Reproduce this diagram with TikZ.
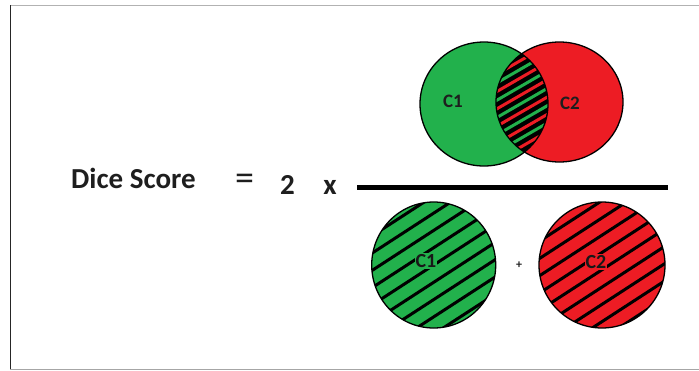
\documentclass[tikz,border=0pt]{standalone}
\usepackage{fontspec}
\setmainfont{Carlito}
\definecolor{pgreen}{RGB}{34,177,76}
\definecolor{pred}{RGB}{237,28,36}
\definecolor{txt}{RGB}{30,30,30}
\tikzset{
  rim/.style={draw=black, line width=1.3pt},
  hatchline/.style={line width=3pt, line cap=round},
  bigtxt/.style={font=\bfseries\fontsize{29}{30}\selectfont, text=txt, inner sep=0pt},
  ctxt/.style={font=\bfseries\fontsize{19}{20}\selectfont, text=txt, inner sep=0pt},
  ctxtb/.style={font=\bfseries\fontsize{20}{22}\selectfont, text=txt!80!black, inner sep=1pt},
}
\begin{document}
\begin{tikzpicture}[x=1pt,y=-1pt]
\useasboundingbox (0,0) rectangle (699,370);
% frame
\draw[gray!60, line width=1pt] (10,5) -- (699,5);
\draw[gray!70, line width=1pt] (10,369) -- (699,369);
\draw[black!85, line width=1pt] (10,369) -- (10,5);

% ---- Venn diagram (numerator)
\fill[pgreen] (484,104) ellipse [x radius=64, y radius=62];
\fill[pred] (559.5,102) ellipse [x radius=63.5, y radius=60];
\begin{scope}
  \clip (484,104) ellipse [x radius=64, y radius=62];
  \fill[black] (559.5,102) ellipse [x radius=63.5, y radius=60];
  \clip (559.5,102) ellipse [x radius=63.5, y radius=60];
  \begin{scope}[shift={(522,103)}, rotate=30]
    \foreach \k in {-8,-6,...,8} {
      \draw[pgreen, line width=3pt] (-70,\k*7.5) -- (70,\k*7.5);
      \draw[pred, line width=3pt] (-70,\k*7.5+7.5) -- (70,\k*7.5+7.5);
    }
  \end{scope}
\end{scope}
\draw[rim] (484,104) ellipse [x radius=64, y radius=62];
\draw[rim] (559.5,102) ellipse [x radius=63.5, y radius=60];
\node[ctxt] (vc1) at (453,101) {C1};
\node[ctxt] (vc2) at (570,103) {C2};

% ---- fraction bar and left side
\draw[black, line width=5pt] (357,187.5) -- (668,187.5);
\node[bigtxt, anchor=base west] (dice) at (71,188.5) {Dice Score};
\node[font=\fontsize{38}{40}\selectfont, text=txt, inner sep=0pt] (eq) at (244.5,182) {=};
\node[bigtxt, anchor=base] (two) at (287.5,194) {2};
\node[bigtxt, anchor=base] (times) at (330,194) {x};

% ---- denominator circles
\fill[pgreen] (433.7,265) ellipse [x radius=62, y radius=63];
\begin{scope}
  \clip (433.7,265) ellipse [x radius=62, y radius=63];
  \begin{scope}[shift={(433.7,265)}, rotate=33]
    \foreach \k in {-5,...,5} \draw[hatchline] (-80,\k*14.5) -- (80,\k*14.5);
  \end{scope}
\end{scope}
\draw[rim] (433.7,265) ellipse [x radius=62, y radius=63];
\node[ctxtb, fill=pgreen] (bc1) at (426,261) {C1};

\fill[pred] (602,265) ellipse [x radius=63, y radius=63];
\begin{scope}
  \clip (602,265) ellipse [x radius=63, y radius=63];
  \begin{scope}[shift={(602,265)}, rotate=33]
    \foreach \k in {-5,...,5} \draw[hatchline] (-80,\k*14.5+4) -- (80,\k*14.5+4);
  \end{scope}
\end{scope}
\draw[rim] (602,265) ellipse [x radius=63, y radius=63];
\node[ctxtb, fill=pred] (bc2) at (596,262) {C2};

\node[font=\bfseries\fontsize{12}{12}\selectfont, text=txt, inner sep=0pt] (plus) at (519,265) {+};
\end{tikzpicture}
\end{document}
